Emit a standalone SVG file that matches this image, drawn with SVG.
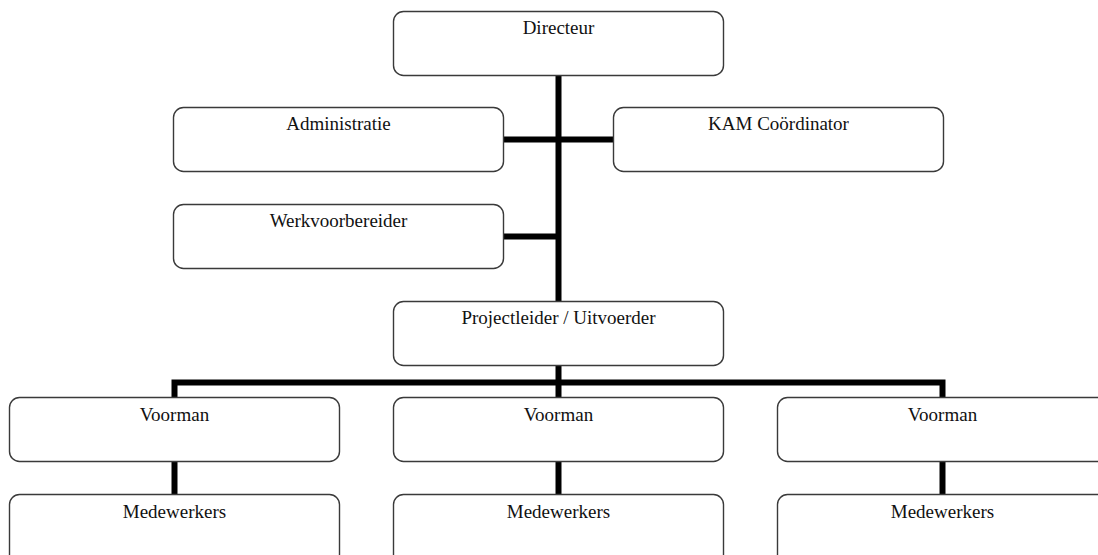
<svg xmlns="http://www.w3.org/2000/svg" width="1098" height="555" viewBox="0 0 1098 555">
<style>
.box{fill:#fff;stroke:#3a3a3a;stroke-width:1.4}
.lbl{font-family:"Liberation Serif","Times New Roman",serif;font-size:19px;fill:#111;text-anchor:middle}
.con{fill:none;stroke:#000;stroke-width:6;stroke-linejoin:miter;stroke-linecap:butt}
</style>
<rect width="1098" height="555" fill="#fff"/>
<g id="connectors">
<line class="con" x1="558.5" y1="75" x2="558.5" y2="301"/>
<line class="con" x1="503" y1="139.5" x2="613" y2="139.5"/>
<line class="con" x1="503" y1="236.5" x2="558.5" y2="236.5"/>
<line class="con" x1="558.5" y1="365" x2="558.5" y2="397"/>
<polyline class="con" points="174.5,397 174.5,382.5 942.5,382.5 942.5,397"/>
<line class="con" x1="174.5" y1="461" x2="174.5" y2="494"/>
<line class="con" x1="558.5" y1="461" x2="558.5" y2="494"/>
<line class="con" x1="942.5" y1="461" x2="942.5" y2="494"/>
</g>
<g id="directeur"><rect class="box" x="393.5" y="11.5" width="330" height="64" rx="10"/><text class="lbl" x="558.5" y="33.5">Directeur</text></g>
<g id="administratie"><rect class="box" x="173.5" y="107.5" width="330" height="64" rx="10"/><text class="lbl" x="338.5" y="130">Administratie</text></g>
<g id="kam"><rect class="box" x="613.5" y="107.5" width="330" height="64" rx="10"/><text class="lbl" x="778.5" y="130">KAM Coördinator</text></g>
<g id="werkvoorbereider"><rect class="box" x="173.5" y="204.5" width="330" height="64" rx="10"/><text class="lbl" x="338.5" y="227">Werkvoorbereider</text></g>
<g id="projectleider"><rect class="box" x="393.5" y="301.5" width="330" height="64" rx="10"/><text class="lbl" x="558.5" y="323.5">Projectleider / Uitvoerder</text></g>
<g id="voorman1"><rect class="box" x="9.5" y="397.5" width="330" height="64" rx="10"/><text class="lbl" x="174.5" y="420.5">Voorman</text></g>
<g id="voorman2"><rect class="box" x="393.5" y="397.5" width="330" height="64" rx="10"/><text class="lbl" x="558.5" y="420.5">Voorman</text></g>
<g id="voorman3"><rect class="box" x="777.5" y="397.5" width="330" height="64" rx="10"/><text class="lbl" x="942.5" y="420.5">Voorman</text></g>
<g id="medewerkers1"><rect class="box" x="9.5" y="494.5" width="330" height="70" rx="10"/><text class="lbl" x="174.5" y="517.5">Medewerkers</text></g>
<g id="medewerkers2"><rect class="box" x="393.5" y="494.5" width="330" height="70" rx="10"/><text class="lbl" x="558.5" y="517.5">Medewerkers</text></g>
<g id="medewerkers3"><rect class="box" x="777.5" y="494.5" width="330" height="70" rx="10"/><text class="lbl" x="942.5" y="517.5">Medewerkers</text></g>
</svg>
